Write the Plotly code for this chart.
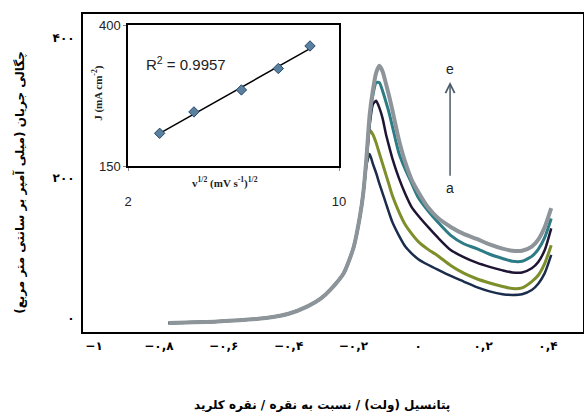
import plotly.graph_objects as go
import numpy as np

# ---------------- data ----------------
potential = [-0.77, -0.62, -0.47, -0.40, -0.34, -0.30, -0.27, -0.23, -0.20, -0.18, -0.17,
             -0.16, -0.15, -0.14, -0.13, -0.12, -0.11, -0.10, -0.09, -0.08, -0.06, -0.04,
             -0.02, 0.0, 0.03, 0.06, 0.10, 0.14, 0.18, 0.22, 0.26, 0.29, 0.32, 0.35, 0.37,
             0.39, 0.41]

rise = [-7, -5, 0, 6, 17, 28, 41, 64, 100, 145, 177]

curve_a = rise + [218, 234, 220, 207, 192, 178, 164, 150, 137, 118, 102,
                  92, 84, 76, 69, 60, 52, 44, 38, 34, 33, 34, 40, 49, 64, 90]
curve_b = rise + [222, 268, 262, 250, 235, 220, 205, 190, 175, 152, 133,
                  120, 109, 98, 89, 75, 64, 56, 50, 45, 42, 43, 52, 61, 78, 104]
curve_c = rise + [224, 275, 305, 310, 300, 285, 263, 245, 228, 200, 177,
                  158, 146, 130, 115, 97, 87, 79, 73, 68, 65, 65, 71, 80, 97, 128]
curve_d = rise + [226, 285, 318, 336, 336, 324, 309, 293, 274, 236, 212,
                  192, 172, 153, 137, 118, 106, 99, 91, 85, 81, 81, 88, 98, 115, 142]
curve_e = rise + [228, 290, 325, 350, 360, 352, 335, 317, 297, 255, 222,
                  197, 180, 158, 143, 130, 120, 113, 105, 99, 96, 96, 102, 112, 130, 157]

curve_names = ["a", "b", "c", "d", "e"]
curve_colors = ["#1b2d4d", "#7d8f2b", "#1f1433", "#2d7b85", "#8d959b"]
curve_widths = [2.5, 3, 2.5, 3, 4]

x_tickvals = [-1, -0.8, -0.6, -0.4, -0.2, 0, 0.2, 0.4]
x_ticktext = ["−۱", "−۰,۸", "−۰,۶", "−۰,۴", "−۰,۲", "۰", "۰,۲", "۰,۴"]
y_tickvals = [0, 200, 400]
y_ticktext = ["۰", "۲۰۰", "۴۰۰"]

# inset data
sqrt_scan = [3.2, 4.5, 6.3, 7.7, 8.9]
peak_j = [208, 246, 285, 323, 363]
inset_xtick = [2, 10]
inset_ytick = [150, 400]

x_title = "پتانسیل (ولت) / نسبت به نقره / نقره کلرید"
y_title = "چگالی جریان (میلی آمپر بر سانتی متر مربع)"

# ---------------- figure ----------------
fig = go.Figure()

curves = [curve_a, curve_b, curve_c, curve_d, curve_e]
for name, ys, col, w in zip(curve_names, curves, curve_colors, curve_widths):
    fig.add_trace(go.Scatter(x=potential, y=ys, mode="lines", name=name,
                             line=dict(color=col, width=w, shape="spline", smoothing=0.6),
                             xaxis="x", yaxis="y", showlegend=False))

# inset trendline
coef = np.polyfit(sqrt_scan, peak_j, 1)
fit_x = [sqrt_scan[0], sqrt_scan[-1]]
fit_y = [coef[0] * v + coef[1] for v in fit_x]
fig.add_trace(go.Scatter(x=fit_x, y=fit_y, mode="lines", line=dict(color="black", width=1.5),
                         xaxis="x2", yaxis="y2", showlegend=False))
fig.add_trace(go.Scatter(x=sqrt_scan, y=peak_j, mode="markers",
                         marker=dict(symbol="diamond", size=8, color="#5a80a0",
                                     line=dict(color="#2a4a6a", width=1)),
                         xaxis="x2", yaxis="y2", showlegend=False))

fa = "DejaVu Sans"

fig.update_layout(
    width=584, height=412,
    margin=dict(l=83, r=1, t=14, b=80),
    paper_bgcolor="white", plot_bgcolor="white",
    xaxis=dict(range=[-1.034, 0.508], tickvals=x_tickvals, ticktext=x_ticktext,
               showgrid=False, zeroline=False, ticks="", ticklabelstandoff=2, automargin=False,
               showline=True, linecolor="black", linewidth=2, mirror=True,
               tickfont=dict(family=fa, size=12, color="black", weight="bold")),
    yaxis=dict(range=[-20, 434], tickvals=y_tickvals, ticktext=y_ticktext,
               showgrid=False, zeroline=False, ticks="", ticklabelstandoff=4, automargin=False,
               showline=True, linecolor="black", linewidth=2, mirror=True,
               tickfont=dict(family=fa, size=12, color="black", weight="bold")),
    xaxis2=dict(domain=[0.09, 0.512], anchor="y2", range=[2, 10], tickvals=inset_xtick,
                showgrid=False, zeroline=False, ticks="outside", ticklen=3, tickcolor="#888",
                ticklabelstandoff=20, automargin=False,
                showline=True, linecolor="black", linewidth=1.5, mirror=True,
                tickfont=dict(family="Liberation Sans", size=13, color="#222")),
    yaxis2=dict(domain=[0.522, 0.965], anchor="x2", range=[150, 400], tickvals=inset_ytick,
                showgrid=False, zeroline=False, ticks="outside", ticklen=3, tickcolor="#888",
                automargin=False,
                showline=True, linecolor="black", linewidth=1.5, mirror=True,
                tickfont=dict(family="Liberation Sans", size=13, color="#222")),
    annotations=[
        dict(text=x_title, xref="paper", yref="paper", x=0.478, y=-0.2296,
             xanchor="center", yanchor="middle",
             showarrow=False, font=dict(family=fa, size=12, color="black", weight="bold")),
        dict(text=y_title, xref="paper", yref="paper", x=-0.126, y=0.469, textangle=-90,
             xanchor="center", yanchor="middle",
             showarrow=False, font=dict(family=fa, size=12, color="black", weight="bold")),
        dict(text="R<sup>2</sup> = 0.9957", xref="x2", yref="y2", x=4.2, y=332,
             xanchor="center", yanchor="middle", showarrow=False,
             font=dict(family="Liberation Sans Narrow, Liberation Sans", size=15, color="#222")),
        dict(text="v<sup>1/2</sup> (mV s<sup>-1</sup>)<sup>1/2</sup>", xref="paper", yref="paper",
             x=0.284, y=0.469, xanchor="center", yanchor="middle", showarrow=False,
             font=dict(family="Liberation Serif", size=11, color="#222", weight="bold")),
        dict(text="J (mA cm<sup>-2</sup>)", xref="paper", yref="paper", x=0.03, y=0.752,
             xanchor="center", yanchor="middle", textangle=-90, showarrow=False,
             font=dict(family="Liberation Serif", size=11, color="#222", weight="bold")),
        dict(x=0.098, y=337, ax=0.098, ay=201, xref="x", yref="y", axref="x", ayref="y",
             text="", showarrow=True, arrowhead=5, arrowsize=1.2, arrowwidth=1.5,
             arrowcolor="#4d5b6b"),
        dict(text="e", x=0.098, y=356, xref="x", yref="y", showarrow=False,
             font=dict(family="Liberation Sans", size=14, color="#222")),
        dict(text="a", x=0.098, y=185, xref="x", yref="y", showarrow=False,
             font=dict(family="Liberation Sans", size=14, color="#222")),
    ],
)

fig.write_html("out.html", config={"displayModeBar": False},
               post_script="document.body.style.margin='0';document.body.style.padding='0';")
